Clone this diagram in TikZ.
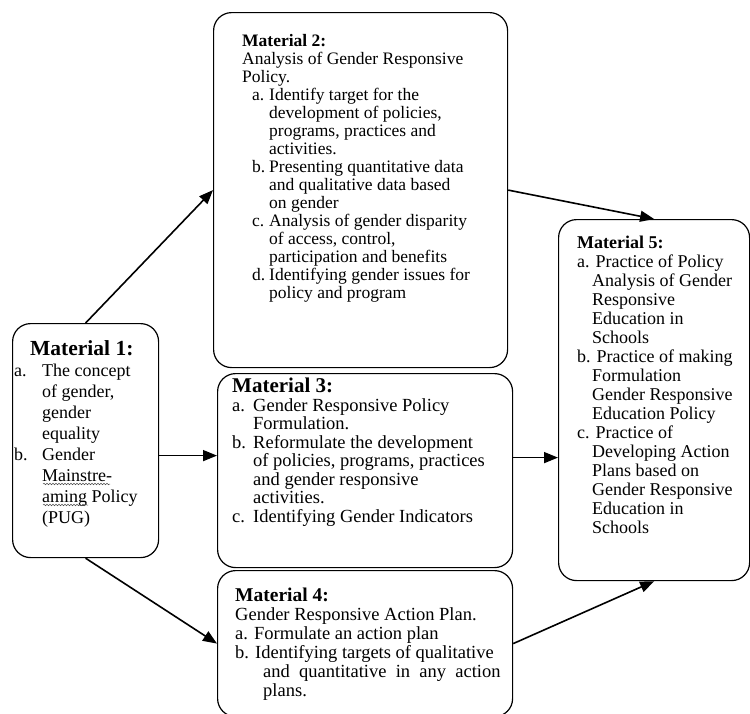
\documentclass[tikz,border=0pt]{standalone}
\usepackage{fontspec}
\setmainfont{Liberation Serif}
\usetikzlibrary{arrows.meta,decorations.pathmorphing}

\newcommand{\lab}[2][15pt]{\makebox[#1][l]{#2}}
\newcommand{\ind}[1][15pt]{\hspace*{#1}}

\tikzset{
  box/.style={draw, rounded corners=18pt, line width=1.2pt, inner sep=0pt, anchor=north west},
  txt/.style={inner sep=0pt, anchor=north west, align=left},
  arr/.style={-{Triangle[length=14pt,width=11pt]}, line width=1.6pt},
  wavy/.style={decorate, decoration={snake, amplitude=0.8pt, segment length=3pt}, line width=0.5pt, black!70},
}

\begin{document}
\begin{tikzpicture}[x=1pt, y=-1pt]
  \useasboundingbox (0,0) rectangle (750,713);

  % Boxes
  \node[box, minimum width=146pt, minimum height=234pt] (m1) at (12,323) {};
  \node[box, minimum width=294pt, minimum height=355pt] (m2) at (213,12) {};
  \node[box, minimum width=295pt, minimum height=194pt] (m3) at (217,373) {};
  \node[box, minimum width=295pt, minimum height=146pt] (m4) at (217,570) {};
  \node[box, minimum width=191pt, minimum height=361pt] (m5) at (558,219) {};

  % Material 1
  \node[txt, font=\fontsize{18}{21}\selectfont] (t1) at (14,340)
    {\ind[16pt]{\fontsize{21.5}{21}\selectfont\bfseries Material 1:}\\
     \lab[28pt]{a.}The concept\\ \ind[28pt]of gender,\\ \ind[28pt]gender\\ \ind[28pt]equality\\
     \lab[28pt]{b.}Gender\\ \ind[28pt]Mainstre-\\ \ind[28pt]aming Policy\\ \ind[28pt](PUG)};
  % spell-check marks
  \draw[wavy] (43,484) -- (110,484);
  \draw[wavy] (43,505) -- (88,505);

  % Material 2
  \node[txt, font=\fontsize{17.5}{18}\selectfont] (t2) at (242,34)
    {\textbf{Material 2:}\\ Analysis of Gender Responsive\\ Policy.\\
     \ind[10pt]\lab[17pt]{a.}Identify target for the\\ \ind[27pt]development of policies,\\
     \ind[27pt]programs, practices and\\ \ind[27pt]activities.\\
     \ind[10pt]\lab[17pt]{b.}Presenting quantitative data\\ \ind[27pt]and qualitative data based\\
     \ind[27pt]on gender\\
     \ind[10pt]\lab[17pt]{c.}Analysis of gender disparity\\ \ind[27pt]of access, control,\\
     \ind[27pt]participation and benefits\\
     \ind[10pt]\lab[17pt]{d.}Identifying gender issues for\\ \ind[27pt]policy and program};

  % Material 3
  \node[txt, font=\fontsize{18.5}{18.5}\selectfont] (t3) at (232,378)
    {{\fontsize{21}{21}\selectfont\bfseries Material 3:}\\
     \lab[21pt]{a.}Gender Responsive Policy\\ \ind[21pt]Formulation.\\
     \lab[21pt]{b.}Reformulate the development\\ \ind[21pt]of policies, programs, practices\\
     \ind[21pt]and gender responsive\\ \ind[21pt]activities.\\
     \lab[21pt]{c.}Identifying Gender Indicators};

  % Material 4
  \node[txt, font=\fontsize{18.5}{19}\selectfont] (t4) at (235,588)
    {{\fontsize{19.5}{19}\selectfont\bfseries Material 4:}\\
     Gender Responsive Action Plan.\\ a. Formulate an action plan\\
     b. Identifying targets of qualitative\\
     \ind[28pt]and\ \ quantitative\ \ in\ \ any\ \ action\\ \ind[28pt]plans.};

  % Material 5
  \node[txt, font=\fontsize{18}{19}\selectfont] (t5) at (577,236)
    {\textbf{Material 5:}\\ a. Practice of Policy\\ \ind Analysis of Gender\\ \ind Responsive\\
     \ind Education in\\ \ind Schools\\
     b. Practice of making\\ \ind Formulation\\ \ind Gender Responsive\\ \ind Education Policy\\
     c. Practice of\\ \ind Developing Action\\ \ind Plans based on\\ \ind Gender Responsive\\
     \ind Education in\\ \ind Schools};

  % Arrows
  \coordinate (p13) at ([yshift=-15pt]m1.east);
  \coordinate (p35) at ([yshift=13pt]m3.east);
  \draw[arr] (m1.north) -- (m2.west);
  \draw[arr] (p13) -- (p13 -| m3.west);
  \draw[arr] (m1.south) -- (m4.west);
  \draw[arr] (m2.east) -- (m5.north);
  \draw[arr] (p35) -- (p35 -| m5.west);
  \draw[arr] (m4.east) -- (m5.south);
\end{tikzpicture}
\end{document}
